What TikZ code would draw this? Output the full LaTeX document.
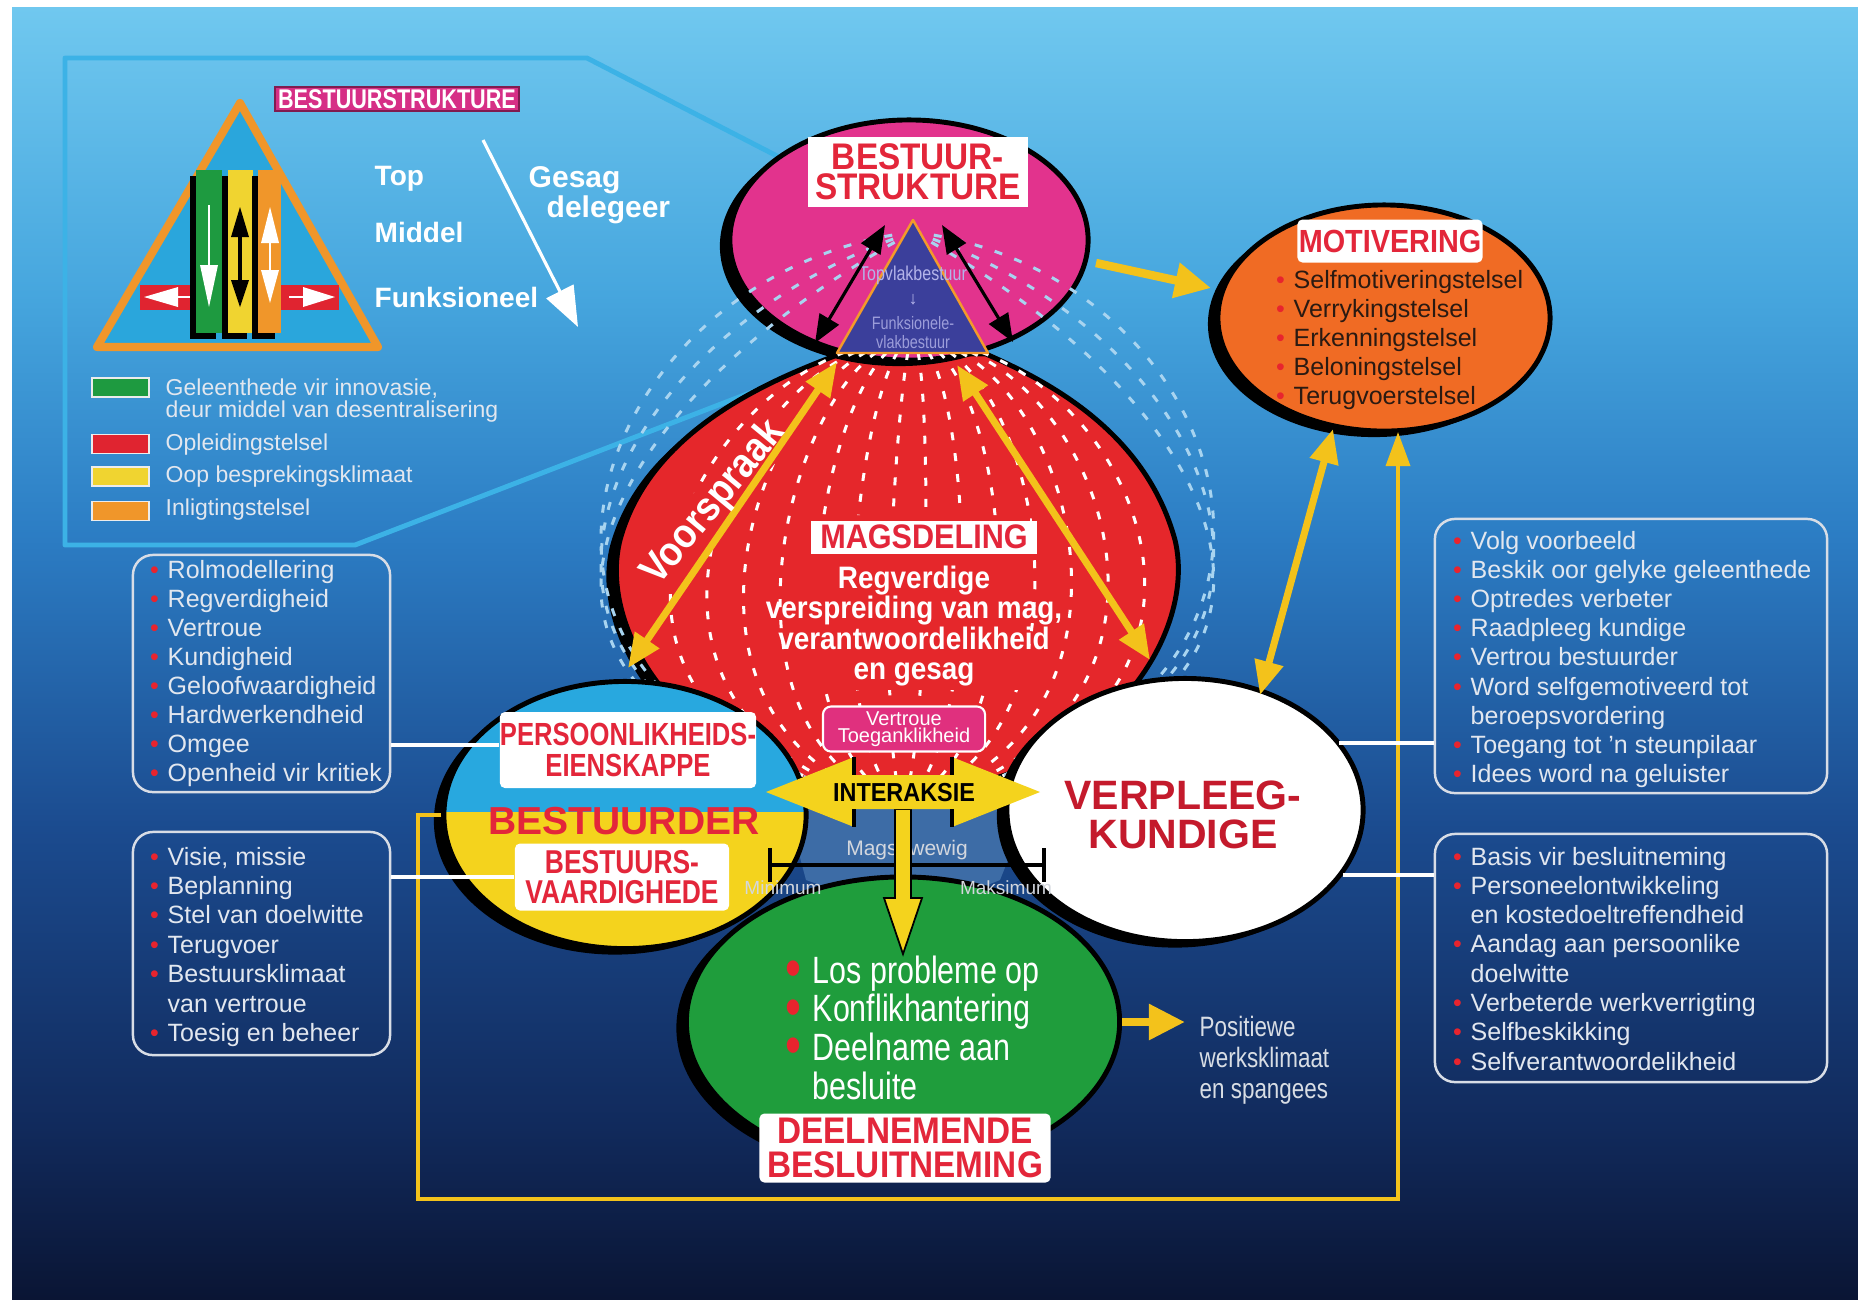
\documentclass[tikz,border=0pt]{standalone}
\usepackage{fontspec}
\setmainfont{Liberation Sans}
\newfontfamily\cnd[FakeStretch=0.9]{Liberation Sans}
\newfontfamily\nrw[FakeStretch=0.8]{Liberation Sans}
\usetikzlibrary{shapes.geometric,arrows.meta,shadows}

% type size given in drawing units (1 unit = 0.01cm)
\newcommand\fpx[2]{\fontsize{\fpeval{#1*0.28453}pt}{\fpeval{#2*0.28453}pt}\selectfont}
\newcommand\bl{\llap{\textcolor{bulred}{\textbullet}\hspace{0.35em}}}
\newcommand\bigbl{\llap{\textcolor{bulred}{\raisebox{-0.12em}{\scalebox{1.5}{\textbullet}}}\hspace{0.3em}}}

\definecolor{skyA}{HTML}{70C8EF}
\definecolor{skyB}{HTML}{46A6DE}
\definecolor{skyC}{HTML}{2C7DC4}
\definecolor{skyD}{HTML}{1B4B8F}
\definecolor{skyE}{HTML}{112A5C}
\definecolor{skyF}{HTML}{0A1534}
\definecolor{frame}{HTML}{3CB2E6}
\definecolor{pinkE}{HTML}{E2338D}
\definecolor{redM}{HTML}{E5272B}
\definecolor{orangeM}{HTML}{F06B24}
\definecolor{cyanB}{HTML}{28A8DF}
\definecolor{yellowB}{HTML}{F4D31D}
\definecolor{greenD}{HTML}{1F9D3C}
\definecolor{triBlue}{HTML}{3B3F9B}
\definecolor{triLine}{HTML}{F39A2A}
\definecolor{lblred}{HTML}{E3263A}
\definecolor{kundred}{HTML}{C41A2C}
\definecolor{bulred}{HTML}{E8242E}
\definecolor{arrowyel}{HTML}{F3C21B}
\definecolor{vtpink}{HTML}{E0307E}
\definecolor{gapblue}{HTML}{3D6CA6}
\definecolor{softtext}{HTML}{E2E7EF}
\definecolor{darktext}{HTML}{2A1A12}
\definecolor{dashblue}{HTML}{A8D4F0}
\definecolor{legG}{HTML}{1E9A40}
\definecolor{legR}{HTML}{E02430}
\definecolor{legY}{HTML}{F0D430}
\definecolor{legO}{HTML}{F0962A}
\definecolor{legTri}{HTML}{2AA6DC}
\definecolor{hdpink}{HTML}{D62F86}
\definecolor{tritext}{HTML}{B4B4EA}
\definecolor{boxline}{HTML}{D8DDE6}

\pgfdeclareverticalshading{skyfade}{100bp}{color(0bp)=(skyF); color(25bp)=(skyF); color(31.7bp)=(skyE); color(43.2bp)=(skyD); color(54.6bp)=(skyC); color(63.9bp)=(skyB); color(75bp)=(skyA); color(100bp)=(skyA)}

\tikzset{
  shad/.style={drop shadow={shadow xshift=-0.1cm, shadow yshift=-0.06cm, opacity=1, fill=black}},
  blob/.style={ellipse, draw=black, line width=1.4pt, inner sep=0pt, shad},
  lbl/.style={fill=white, text=lblred, inner sep=0pt, align=center, rounded corners=0.05cm},
  item/.style={anchor=base west, inner sep=0pt, text=softtext, font=\fpx{25}{29}},
  listbox/.style={draw=boxline, line width=0.7pt, rounded corners=0.2cm, inner sep=0pt},
  dshW/.style={white, line width=0.85pt, dash pattern=on 0.08cm off 0.13cm},
  dshB/.style={dashblue, line width=0.85pt, dash pattern=on 0.08cm off 0.13cm},
  yarrow/.style={draw=arrowyel, line width=2.4pt, -{Triangle[length=0.36cm,width=0.34cm]}},
  ydouble/.style={draw=arrowyel, line width=2pt,
    {Triangle[length=0.34cm,width=0.28cm]}-{Triangle[length=0.34cm,width=0.28cm]}},
  bdouble/.style={draw=black, line width=0.9pt,
    {Triangle[length=0.28cm,width=0.22cm]}-{Triangle[length=0.28cm,width=0.22cm]}},
  wire/.style={white, line width=1.2pt},
  legtxt/.style={anchor=base west, inner sep=0pt, text=softtext, font=\fpx{23}{22}},
  swatch/.style={draw=white!85!gray, line width=0.4pt, minimum width=0.57cm, minimum height=0.19cm, inner sep=0pt},
}

\begin{document}
\begin{tikzpicture}[x=0.01cm, y=-0.01cm]
\useasboundingbox (0,0) rectangle (1858,1299);
\fill[white] (0,0) rectangle (1858,1299);
\shade[shading=skyfade] (12,7) rectangle (1858,1299);

% frame of the inset legend, pointing at the structure ellipse
\draw[frame, line width=1.4pt, line join=round]
  (808,172) -- (587,58) -- (65,58) -- (65,545) -- (355,545) -- (830,362);

% lighter patch visible between the four lower shapes
\fill[gapblue] (800,780) -- (1010,780) -- (1012,850) -- (1000,880) -- (960,896) -- (850,896) -- (806,880) -- (798,850) -- cycle;

% power-sharing body, narrowing into a neck under the pyramid
\path[fill=redM, draw=black, line width=1.4pt, shad]
  (840,354) .. controls (770,380) and (650,430) .. (620,540)
  .. controls (595,640) and (700,792) .. (897,792)
  .. controls (1094,792) and (1199,640) .. (1175,540)
  .. controls (1145,430) and (1045,380) .. (986,354) -- cycle;
\coordinate (mag) at (897,570);
\node[blob, fill=pinkE, minimum width=3.58cm, minimum height=2.4cm] (struct) at (909,240) {};

% field lines; the text blocks are kept clear
\begin{scope}[even odd rule]
\clip (0,0) rectangle (1858,1299) (805,515) rectangle (1030,690)
  (801,432) -- (767,404) -- (627,574) -- (661,602) -- cycle;
\foreach \w in {20,62,104,146,188,230,272} {
  \draw[dshW] (913-0.25*\w,352) .. controls (913-0.9*\w,420) and (903-1.3*\w,720) .. (903-0.1*\w,800);
  \draw[dshW] (913+0.25*\w,352) .. controls (913+0.9*\w,420) and (903+1.3*\w,720) .. (903+0.1*\w,800);
}
\foreach \d in {40,110,180} {
  \draw[dshB] (913,232) .. controls (913-330,232+\d) and (903-480,720) .. (903,800);
  \draw[dshB] (913,232) .. controls (913+330,232+\d) and (903+480,720) .. (903,800);
}
\end{scope}

% management pyramid
\draw[fill=triBlue, draw=triLine, line width=0.7pt, line join=round] (913,220) -- (988,353) -- (837,353) -- cycle;
\node[text=tritext, font=\nrw\fpx{20}{20}, inner sep=0pt] (tv1) at (913,275) {Topvlakbestuur};
\node[text=tritext, font=\fpx{18}{18}, inner sep=0pt] (tv2) at (913,300) {↓};
\node[text=tritext!80!triBlue, font=\nrw\fpx{18}{18}, inner sep=0pt] (tv3) at (913,323) {Funksionele-};
\node[text=tritext!80!triBlue, font=\nrw\fpx{18}{18}, inner sep=0pt] (tv4) at (913,342) {vlakbestuur};
\coordinate (bA1) at (885,225); \coordinate (bA2) at (815,343);
\coordinate (bB1) at (942,225); \coordinate (bB2) at (1013,342);
\draw[bdouble] (bA1) -- (bA2);
\draw[bdouble] (bB1) -- (bB2);

\node[lbl, rounded corners=0pt, font=\cnd\bfseries\fpx{37}{30}, minimum width=2.2cm, minimum height=0.69cm] (structT) at (918,172) {BESTUUR-\\STRUKTURE};

% motivation
\node[blob, fill=orangeM, minimum width=3.32cm, minimum height=2.26cm] (motiv) at (1384,318) {};
\node[lbl, font=\cnd\bfseries\fpx{32}{32}, minimum width=1.85cm, minimum height=0.43cm] (motivT) at (1390,241) {MOTIVERING};
\foreach \t [count=\i from 0] in {Selfmotiveringstelsel, Verrykingstelsel, Erkenningstelsel, Beloningstelsel, Terugvoerstelsel}
  \node[item, text=darktext] (mv\i) at (1293, 288+29.2*\i) {\bl\t};

% lower three circles
\node[blob, fill=greenD, minimum width=4.33cm, minimum height=2.9cm] (part) at (903,1022) {};
\node[blob, fill=yellowB, minimum width=3.62cm, minimum height=2.67cm,
  path picture={\fill[cyanB] (path picture bounding box.north west) rectangle ([yshift=0.03cm]path picture bounding box.east);}] (mgr) at (625,815) {};
\node[blob, fill=white, minimum width=3.56cm, minimum height=2.63cm] (nurse) at (1185,810) {};

% power sharing text
\node[lbl, rounded corners=0pt, font=\cnd\bfseries\fpx{34}{34}, minimum width=2.26cm, minimum height=0.33cm] (magT) at (924,537) {MAGSDELING};
\node[text=white, font=\cnd\bfseries\fpx{31}{30.5}, align=center, inner sep=0pt] (magB) at (914,626)
  {Regverdige\\verspreiding van mag,\\verantwoordelikheid\\en gesag};
\node[fill=vtpink, draw=white, line width=0.6pt, rounded corners=0.08cm, minimum width=1.62cm, minimum height=0.45cm,
  inner sep=0pt, align=center, text=white, font=\fpx{20}{17}] (vt) at (904,729) {Vertroue\\Toeganklikheid};

% manager
\node[lbl, font=\nrw\bfseries\fpx{32}{31}, minimum width=2.55cm, minimum height=0.76cm] (persT) at (628,750) {PERSOONLIKHEIDS-\\EIENSKAPPE};
\node[text=lblred, font=\bfseries\fpx{39}{39}, inner sep=0pt] (mgrT) at (624,821) {BESTUURDER};
\node[lbl, font=\nrw\bfseries\fpx{33}{30}, minimum width=2.14cm, minimum height=0.67cm] (skillT) at (622,877) {BESTUURS-\\VAARDIGHEDE};

% nurse
\node[text=kundred, font=\bfseries\fpx{41}{39}, align=center, inner sep=0pt] (nurseT) at (1183,815) {VERPLEEG-\\KUNDIGE};

% participation
\foreach \t [count=\i from 0] in {Los probleme op, Konflikhantering, Deelname aan}
  \node[anchor=base west, inner sep=0pt, text=white, font=\nrw\fpx{38}{38}] (pt\i) at (812, 983+38.7*\i) {\bigbl\t};
\node[anchor=base west, inner sep=0pt, text=white, font=\nrw\fpx{38}{38}] (pt3) at (812, 1099) {besluite};
\node[lbl, font=\cnd\bfseries\fpx{37}{34}, minimum width=2.91cm, minimum height=0.69cm] (partT) at (905,1148) {DEELNEMENDE\\BESLUITNEMING};

% balance of power
\draw[black, line width=0.9pt] (770,865) -- (1044,865) (770,848) -- (770,882) (1044,848) -- (1044,882);
\node[text=softtext!85!gray, font=\fpx{21}{21}, inner sep=0pt] (mw) at (907,850) {Magsewewig};
\node[text=softtext!85!gray, font=\fpx{19}{19}, inner sep=0pt] (mMin) at (783,888) {Minimum};
\node[text=softtext!85!gray, font=\fpx{19}{19}, inner sep=0pt] (mMax) at (1006,888) {Maksimum};
\draw[fill=yellowB, draw=black, line width=0.5pt] (895,809) -- (911,809) -- (911,898) -- (922,898) -- (903,954) -- (884,898) -- (895,898) -- cycle;

% interaction arrow
\fill[yellowB] (766,792) -- (854,757) -- (854,775) -- (952,775) -- (952,757) -- (1040,792)
  -- (952,827) -- (952,809) -- (854,809) -- (854,827) -- cycle;
\draw[black, line width=0.9pt] (854,757) -- (854,775) (854,809) -- (854,827) (952,757) -- (952,775) (952,809) -- (952,827);
\node[text=black, font=\cnd\bfseries\fpx{26}{26}, inner sep=0pt] (iaT) at (904,793) {INTERAKSIE};

% advocacy arrows
\coordinate (vsTop) at (837,362); \coordinate (vsBot) at (628,668);
\coordinate (rsTop) at (957,365); \coordinate (rsBot) at (1150,660);
\draw[ydouble] (vsTop) -- (vsBot);
\draw[ydouble] (rsTop) -- (rsBot);
\node[rotate=50.4, text=white, font=\cnd\bfseries\fpx{41}{41}, inner sep=0pt] (vs) at (714,503) {Voorspraak};

% arrows to and from motivation
\coordinate (smA) at (1096,263); \coordinate (smB) at (1211,288);
\draw[yarrow] (smA) -- (smB);
\coordinate (mnA) at (1333,429); \coordinate (mnB) at (1260,695);
\draw[ydouble] (mnA) -- (mnB);
\coordinate (loopTop) at (1398,432);
\draw[arrowyel, line width=1pt, -{Triangle[length=0.34cm,width=0.24cm]}]
  (mgr.west) -- (418,815) -- (418,1199) -- (1398,1199) -- (loopTop);

% outcome
\coordinate (posTip) at (1185,1022);
\draw[yarrow] (part.east) -- (posTip);
\foreach \t [count=\i from 0] in {Positiewe, werksklimaat, en spangees}
  \node[anchor=base west, inner sep=0pt, text=softtext!90!gray, font=\nrw\fpx{28}{28}] (pos\i) at (1199, 1036+31*\i) {\t};

% side lists
\node[listbox, minimum width=2.57cm, minimum height=2.37cm] (boxP) at (261.5,673.5) {};
\node[listbox, minimum width=2.57cm, minimum height=2.23cm] (boxS) at (261.5,943.5) {};
\node[listbox, minimum width=3.92cm, minimum height=2.74cm] (boxN) at (1631,656) {};
\node[listbox, minimum width=3.92cm, minimum height=2.48cm] (boxB) at (1631,958) {};

\foreach \t [count=\i from 0] in {Rolmodellering, Regverdigheid, Vertroue, Kundigheid, Geloofwaardigheid, Hardwerkendheid, Omgee, Openheid vir kritiek}
  \node[item] (lp\i) at (167, 578+29*\i) {\bl\t};
\foreach \t [count=\i from 0] in {{\bl Visie, missie}, {\bl Beplanning}, {\bl Stel van doelwitte}, {\bl Terugvoer}, {\bl Bestuursklimaat}, {van vertroue}, {\bl Toesig en beheer}}
  \node[item] (ls\i) at (167, 865+29.4*\i) {\t};
\foreach \t [count=\i from 0] in {{\bl Volg voorbeeld}, {\bl Beskik oor gelyke geleenthede}, {\bl Optredes verbeter}, {\bl Raadpleeg kundige}, {\bl Vertrou bestuurder}, {\bl Word selfgemotiveerd tot}, {beroepsvordering}, {\bl Toegang tot 'n steunpilaar}, {\bl Idees word na geluister}}
  \node[item] (rn\i) at (1470, 549+29.2*\i) {\t};
\foreach \t [count=\i from 0] in {{\bl Basis vir besluitneming}, {\bl Personeelontwikkeling}, {en kostedoeltreffendheid}, {\bl Aandag aan persoonlike}, {doelwitte}, {\bl Verbeterde werkverrigting}, {\bl Selfbeskikking}, {\bl Selfverantwoordelikheid}}
  \node[item] (rb\i) at (1470, 865+29.3*\i) {\t};

% connectors from the lists
\draw[wire] (boxP.east |- 0,745) -- (persT.west |- 0,745);
\draw[wire] (boxS.east |- 0,877) -- (skillT.west);
\coordinate (nw1) at (1339,743); \coordinate (nw2) at (1343,875);
\draw[wire] (nw1) -- (boxN.west |- nw1);
\draw[wire] (nw2) -- (boxB.west |- nw2);

% inset legend: structure pyramid
\node[fill=hdpink, draw=hdpink!60!black, line width=0.5pt, text=white, font=\nrw\bfseries\fpx{27}{27},
  inner sep=0pt, minimum width=2.44cm, minimum height=0.24cm] (lgHead) at (397,99) {BESTUURSTRUKTURE};
\draw[fill=legTri, draw=legO, line width=2.3pt, line join=round] (240,103) -- (378,347) -- (97,347) -- cycle;
\fill[legR] (140,285) rectangle (339,310);
\fill[white] (144,297) -- (178,287) -- (178,307) -- cycle;
\draw[white, line width=0.6pt] (178,297) -- (192,297);
\fill[white] (335,297) -- (303,287) -- (303,307) -- cycle;
\draw[white, line width=0.6pt] (289,297) -- (303,297);
\foreach \xa/\xb/\c in {196/222/legG, 228/253/legY, 258/281/legO} {
  \fill[black] (\xa-6,176) rectangle (\xb-6,339);
  \fill[\c] (\xa,170) rectangle (\xb,333);
}
\draw[white, line width=0.3pt] (209,205) -- (209,268);
\fill[white] (200,265) -- (218,265) -- (209,307) -- cycle;
\draw[black, line width=1.1pt] (240,230) -- (240,285);
\fill[black] (231,237) -- (249,237) -- (240,207) -- cycle;
\fill[black] (231,280) -- (249,280) -- (240,307) -- cycle;
\draw[white, line width=0.6pt] (270,240) -- (270,272);
\fill[white] (261,243) -- (279,243) -- (270,207) -- cycle;
\fill[white] (261,270) -- (279,270) -- (270,303) -- cycle;

\node[anchor=base west, inner sep=0pt, text=white, font=\bfseries\fpx{28}{28}] (lvTop) at (374,185) {Top};
\node[anchor=base west, inner sep=0pt, text=white, font=\bfseries\fpx{28}{28}] (lvMid) at (374,242) {Middel};
\node[anchor=base west, inner sep=0pt, text=white, font=\bfseries\fpx{28}{28}] (lvFun) at (374,307) {Funksioneel};
\node[anchor=base west, inner sep=0pt, text=white, font=\bfseries\fpx{30}{30}] (gsA) at (528,187) {Gesag};
\node[anchor=base west, inner sep=0pt, text=white, font=\bfseries\fpx{30}{30}] (gsB) at (546,217) {delegeer};
\coordinate (dgA) at (483,140); \coordinate (dgB) at (578,327);
\draw[white, line width=0.9pt, -{Triangle[length=0.4cm,width=0.3cm]}] (dgA) -- (dgB);

% inset legend: colour key
\node[swatch, fill=legG] (swG) at (120.5,387.5) {};
\node[swatch, fill=legR] (swR) at (120.5,444) {};
\node[swatch, fill=legY] (swY) at (120.5,476.5) {};
\node[swatch, fill=legO] (swO) at (120.5,511) {};
\node[legtxt] (kG1) at (165,395) {Geleenthede vir innovasie,};
\node[legtxt] (kG2) at (165,417) {deur middel van desentralisering};
\node[legtxt] (kR) at (165,450) {Opleidingstelsel};
\node[legtxt] (kY) at (165,482) {Oop besprekingsklimaat};
\node[legtxt] (kO) at (165,515) {Inligtingstelsel};
\end{tikzpicture}
\end{document}
